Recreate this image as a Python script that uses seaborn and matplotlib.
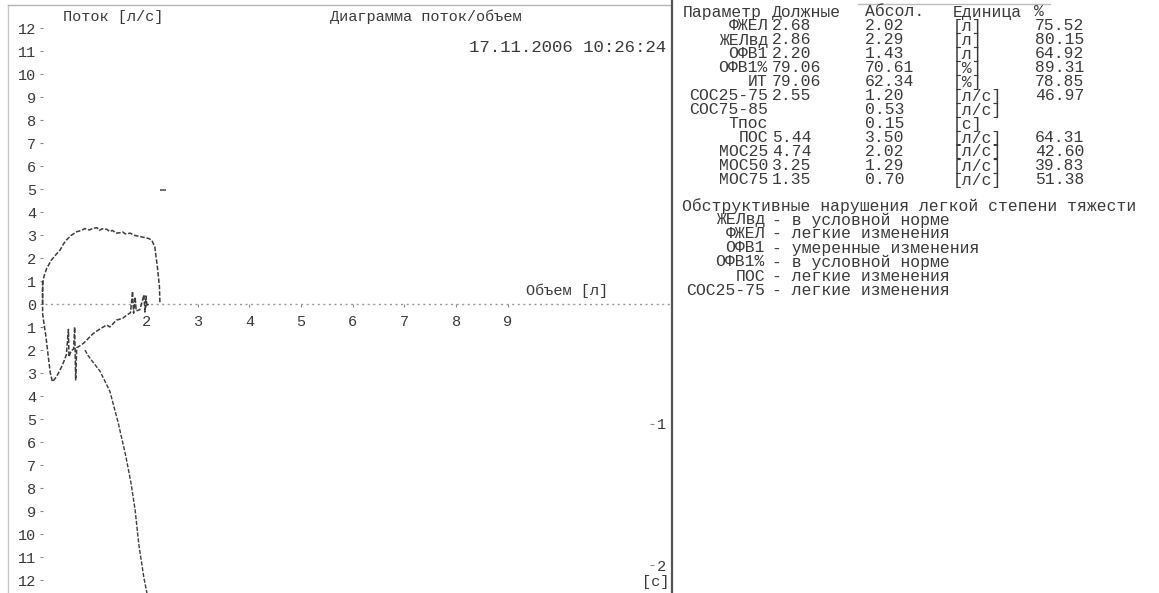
import numpy as np
import pandas as pd
import matplotlib
matplotlib.use("Agg")
import matplotlib.pyplot as plt
from matplotlib.lines import Line2D
import seaborn as sns

# ---------------- data ----------------
# expiratory limb of flow-volume loop (volume L, flow L/s)
exp_volume = [0.00, 0.00, 0.01, 0.04, 0.08, 0.17, 0.26, 0.34, 0.40, 0.46, 0.55, 0.66, 0.75, 0.82,
              0.90, 0.98, 1.05, 1.10, 1.15, 1.24, 1.30, 1.35, 1.42, 1.50, 1.55, 1.60, 1.70,
              1.75, 1.85, 1.95, 2.05, 2.11, 2.17, 2.22, 2.26, 2.27]
exp_flow = [0.00, 0.60, 1.04, 1.30, 1.55, 1.91, 2.15, 2.35, 2.60, 2.78, 2.98, 3.14, 3.20, 3.28,
            3.22, 3.29, 3.32, 3.20, 3.27, 3.25, 3.15, 3.20, 3.08, 3.10, 3.13, 3.05, 3.08,
            3.00, 2.95, 2.90, 2.85, 2.78, 2.49, 1.62, 0.75, 0.00]

# inspiratory limb (flow negative)
insp_volume = [0.00, 0.00, 0.03, 0.065, 0.11, 0.15, 0.19, 0.27, 0.37, 0.42, 0.46, 0.50, 0.51,
               0.55, 0.60, 0.62, 0.64, 0.66, 0.70, 0.79, 0.98, 1.10, 1.24, 1.30, 1.43, 1.55,
               1.63, 1.70, 1.74, 1.76, 1.79, 1.81, 1.88, 1.92, 1.96, 1.98, 2.00, 2.02, 2.05]
insp_flow = [1.00, -0.41, -0.90, -1.42, -2.29, -3.01, -3.38, -3.16, -2.72, -2.45, -2.20, -1.10,
             -2.30, -2.05, -1.95, -1.00, -3.30, -1.90, -1.85, -1.71, -1.28, -1.10, -0.91, -1.00,
             -0.70, -0.62, -0.48, -0.38, 0.55, -0.40, 0.30, -0.30, -0.25, 0.05, 0.40, -0.35,
             0.35, -0.10, 0.00]

# volume-time curve (volume L, time s)
vt_volume = [0.82, 0.88, 1.11, 1.30, 1.46, 1.61, 1.71, 1.79, 1.86, 1.96, 2.02]
vt_time = [0.48, 0.52, 0.63, 0.77, 0.99, 1.23, 1.42, 1.61, 1.85, 2.09, 2.20]

# single marker above the loop
mark_volume = [2.33]
mark_flow = [4.95]

flow_ticks = list(range(-12, 13))
volume_ticks = [2, 3, 4, 5, 6, 7, 8, 9]
time_ticks = [1, 2]

params = ["ФЖЕЛ", "ЖЕЛвд", "ОФВ1", "ОФВ1%", "ИТ", "СОС25-75", "СОС75-85", "Tпос",
          "ПОС", "МОС25", "МОС50", "МОС75"]
due_vals = ["2.68", "2.86", "2.20", "79.06", "79.06", "2.55", "", "", "5.44", "4.74",
            "3.25", "1.35"]
abs_vals = ["2.02", "2.29", "1.43", "70.61", "62.34", "1.20", "0.53", "0.15", "3.50",
            "2.02", "1.29", "0.70"]
units = ["[л]", "[л]", "[л]", "[%]", "[%]", "[л/с]", "[л/с]", "[с]", "[л/с]", "[л/с]",
         "[л/с]", "[л/с]"]
pct_vals = ["75.52", "80.15", "64.92", "89.31", "78.85", "46.97", "", "", "64.31",
            "42.60", "39.83", "51.38"]
header = ["Параметр", "Должные", "Абсол.", "Единица", "%"]

conclusion_title = "Обструктивные нарушения легкой степени тяжести"
concl_params = ["ЖЕЛвд", "ФЖЕЛ", "ОФВ1", "ОФВ1%", "ПОС", "СОС25-75"]
concl_text = ["в условной норме", "легкие изменения", "умеренные изменения",
              "в условной норме", "легкие изменения", "легкие изменения"]

# ---------------- style ----------------
sns.set_theme(style="white")
plt.rcParams["font.family"] = ["Liberation Mono", "DejaVu Sans Mono", "DejaVu Sans"]

TXT = "#3a3a3a"
LINE = "#3c3c3c"
FS = 11

W, H = 1159, 593
fig = plt.figure(figsize=(W / 100, H / 100), dpi=100)
fig.patch.set_facecolor("white")


def fx(x):
    return x / W


def fy(y):
    return 1 - y / H


rect = [fx(8), 0.0, (672 - 8) / W, 588 / H]

# frame
frame = fig.add_axes(rect, zorder=0)
frame.set_xticks([])
frame.set_yticks([])
frame.patch.set_alpha(0)
frame.spines["bottom"].set_visible(False)
frame.spines["right"].set_visible(False)
frame.spines["top"].set_color("#b5b5b5")
frame.spines["left"].set_color("#c8c8c8")
frame.spines["top"].set_linewidth(1.0)
frame.spines["left"].set_linewidth(1.0)

# right dividing line
fig.add_artist(Line2D([fx(672), fx(672)], [0, 1], transform=fig.transFigure,
                      color="#555555", lw=1.6))
fig.add_artist(Line2D([fx(858), fx(1050)], [fy(4), fy(4)], transform=fig.transFigure,
                      color="#bdbdbd", lw=1.0))

# main axes
ax = fig.add_axes(rect, facecolor="none", zorder=2)
ax.set_xlim(-0.669, 12.174)
ax.set_ylim(-12.565, 13.0)

sns.lineplot(x=exp_volume, y=exp_flow, sort=False, estimator=None, ax=ax,
             color=LINE, lw=1.1, linestyle=(0, (3.0, 1.2)))
sns.lineplot(x=insp_volume, y=insp_flow, sort=False, estimator=None, ax=ax,
             color=LINE, lw=1.1, linestyle=(0, (3.0, 1.2)))
ax.plot(mark_volume, mark_flow, marker="_", color="#555555", ms=4, mew=1.2, ls="none")

ax.axhline(0, xmin=(45 - 8) / 664, xmax=1.0, color="#9a9a9a", lw=1.0,
           linestyle=(0, (1.5, 2.5)), zorder=1)

for s in ax.spines.values():
    s.set_visible(False)
ax.spines["left"].set_position(("data", 0))
ax.spines["bottom"].set_position(("data", 0))

ax.set_yticks(flow_ticks)
ax.set_yticklabels([str(abs(v)) for v in flow_ticks])
ax.set_xticks(volume_ticks)
ax.set_xticklabels([str(v) for v in volume_ticks])
ax.tick_params(axis="y", left=True, right=False, length=2.2, width=0.8, color="#8a8a8a",
               pad=2.6, labelsize=FS, labelcolor=TXT, direction="out")
ax.tick_params(axis="x", bottom=True, top=False, length=2.2, width=0.8, color="#8a8a8a",
               pad=5.5, labelsize=FS, labelcolor=TXT, direction="out")
ax.set_xlabel("")
ax.set_ylabel("")

ax.text(55 / 664, (593 - 17) / 588, "Поток [л/с]", transform=ax.transAxes,
        ha="left", va="center", fontsize=FS, color=TXT)
ax.text((330 - 8) / 664, (593 - 17) / 588, "Диаграмма поток/объем", transform=ax.transAxes,
        ha="left", va="center", fontsize=FS, color=TXT)
ax.text((666 - 8) / 664, (593 - 47) / 588, "17.11.2006 10:26:24", transform=ax.transAxes,
        ha="right", va="center", fontsize=12.5, color=TXT)
ax.text((567 - 8) / 664, (593 - 291) / 588, "Объем [л]", transform=ax.transAxes,
        ha="center", va="center", fontsize=FS, color=TXT)

# time axis (volume-time curve)
ax2 = ax.twinx()
ax2.set_zorder(3)
ax2.patch.set_alpha(0)
ax2.set_ylim(2.196, -1.956)
sns.lineplot(x=vt_volume, y=vt_time, sort=False, estimator=None, ax=ax2,
             color=LINE, lw=1.0, linestyle=(0, (3.0, 1.2)))
for s in ax2.spines.values():
    s.set_visible(False)
ax2.spines["right"].set_position(("axes", (650 - 8) / 664))
ax2.set_yticks(time_ticks)
ax2.set_yticklabels([str(v) for v in time_ticks])
ax2.tick_params(axis="y", right=True, left=False, length=3, width=0.8, color="#8a8a8a",
                pad=2, labelsize=FS, labelcolor=TXT, direction="out")
ax2.set_ylabel("")
ax2.set_xlabel("")
ax2.text(0.996, (593 - 582) / 588, "[c]", transform=ax2.transAxes,
         ha="right", va="center", fontsize=FS, color=TXT)

# ---------------- table ----------------
TFS = 11.8
row0 = 12
dy = 14
fig.text(fx(683), fy(row0), header[0], ha="left", va="center", fontsize=TFS, color=TXT)
fig.text(fx(772), fy(row0), header[1], ha="left", va="center", fontsize=TFS, color=TXT)
fig.text(fx(865), fy(row0), header[2], ha="left", va="center", fontsize=TFS, color=TXT)
fig.text(fx(953), fy(row0), header[3], ha="left", va="center", fontsize=TFS, color=TXT)
fig.text(fx(1034), fy(row0), header[4], ha="left", va="center", fontsize=TFS, color=TXT)

for i, name in enumerate(params):
    y = row0 + dy * (i + 1)
    fig.text(fx(768), fy(y), name, ha="right", va="center", fontsize=TFS, color=TXT)
    fig.text(fx(772), fy(y), due_vals[i], ha="left", va="center", fontsize=TFS, color=TXT)
    fig.text(fx(865), fy(y), abs_vals[i], ha="left", va="center", fontsize=TFS, color=TXT)
    fig.text(fx(953), fy(y), units[i], ha="left", va="center", fontsize=TFS, color=TXT)
    fig.text(fx(1035), fy(y), pct_vals[i], ha="left", va="center", fontsize=TFS, color=TXT)

c0 = 206
fig.text(fx(682), fy(c0), conclusion_title, ha="left", va="center", fontsize=TFS, color=TXT)
for i, (p, t) in enumerate(zip(concl_params, concl_text)):
    y = c0 + dy * (i + 1)
    fig.text(fx(765), fy(y), p, ha="right", va="center", fontsize=TFS, color=TXT)
    fig.text(fx(772), fy(y), "- " + t, ha="left", va="center", fontsize=TFS, color=TXT)

fig.savefig("out.png", dpi=100)
